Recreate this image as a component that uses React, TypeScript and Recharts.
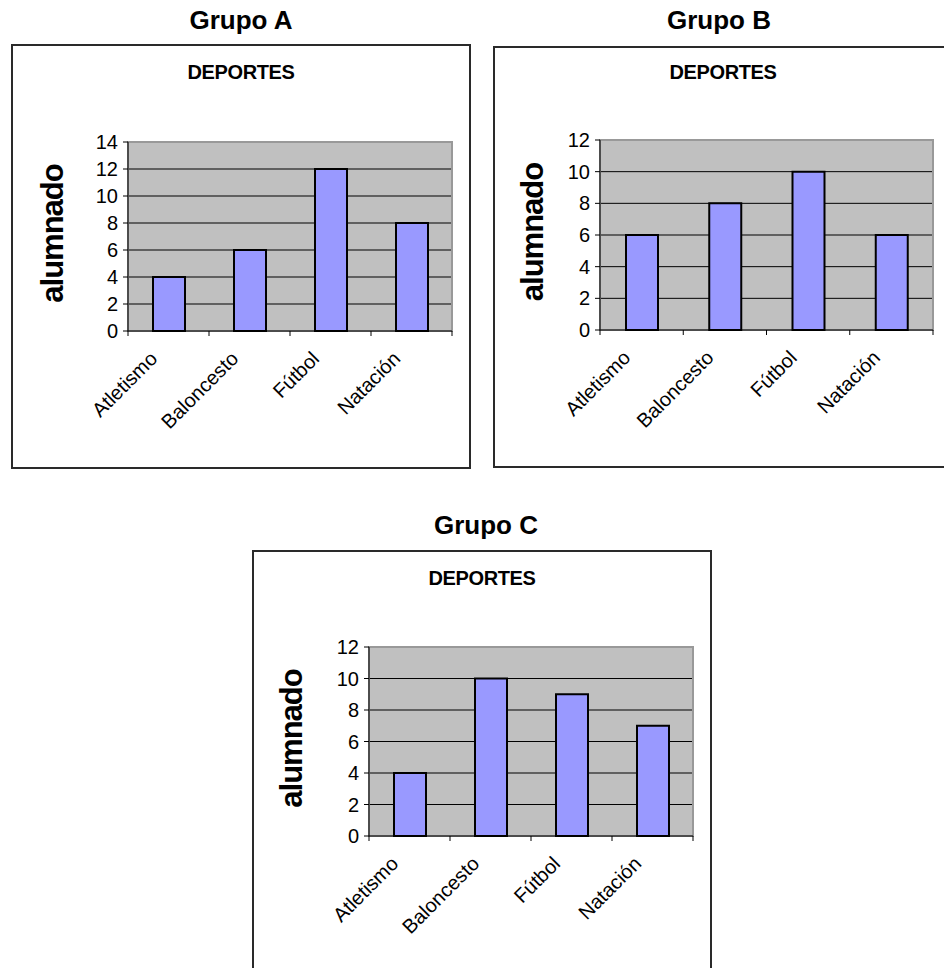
import React from 'react';
import { BarChart, Bar, XAxis, YAxis, CartesianGrid, ReferenceArea } from 'recharts';

// ---------- data ----------
const categories = ['Atletismo', 'Baloncesto', 'Fútbol', 'Natación'];
const valuesA = [4, 6, 12, 8];
const valuesB = [6, 8, 10, 6];
const valuesC = [4, 10, 9, 7];
const ticksA = [0, 2, 4, 6, 8, 10, 12, 14];
const ticksB = [0, 2, 4, 6, 8, 10, 12];
const ticksC = [0, 2, 4, 6, 8, 10, 12];
const groupTitles = ['Grupo A', 'Grupo B', 'Grupo C'];
const chartTitle = 'DEPORTES';
const yLabel = 'alumnado';

const FONT = '"Liberation Sans", Arial, Helvetica, sans-serif';

type Layout = {
  box: { x: number; y: number; w: number; h: number };
  plot: { l: number; t: number; r: number; b: number };
  titleCx: number;
  titleTop: number;
  subTop: number;
  yLabelGap: number;
};

const layoutA: Layout = {
  box: { x: 11, y: 44, w: 460, h: 425 },
  plot: { l: 128, t: 142, r: 452, b: 331 },
  titleCx: 241,
  titleTop: 7,
  subTop: 62,
  yLabelGap: 65,
};
const layoutB: Layout = {
  box: { x: 493, y: 46, w: 460, h: 422 },
  plot: { l: 600, t: 140, r: 933, b: 330 },
  titleCx: 719,
  titleTop: 7,
  subTop: 62,
  yLabelGap: 57,
};
const layoutC: Layout = {
  box: { x: 252, y: 550, w: 460, h: 430 },
  plot: { l: 369, t: 647, r: 693, b: 836 },
  titleCx: 486,
  titleTop: 512,
  subTop: 568,
  yLabelGap: 67,
};

function CategoryTick(props: any) {
  const { x, y, payload, index, band, count } = props;
  const half =
    payload && typeof payload.offset === 'number' && payload.offset > 0 ? payload.offset : band / 2;
  const lx = x - 10;
  const ly = y + 29;
  return (
    <g>
      <line x1={x - half} y1={y} x2={x - half} y2={y + 5} stroke="#000" strokeWidth={1} />
      {index === count - 1 ? (
        <line x1={x + half} y1={y} x2={x + half} y2={y + 5} stroke="#000" strokeWidth={1} />
      ) : null}
      <text
        x={lx}
        y={ly}
        transform={`rotate(-45 ${lx} ${ly})`}
        textAnchor="end"
        fontSize={20}
        fill="#000"
        fontFamily={FONT}
      >
        {payload.value}
      </text>
    </g>
  );
}

function makeYLabel(layout: Layout) {
  return (p: any) => {
    const vb = p && p.viewBox && typeof p.viewBox.x === 'number' ? p.viewBox : null;
    const right = vb ? vb.x + vb.width : layout.plot.l - layout.box.x;
    const midY = vb ? vb.y + vb.height / 2 : (layout.plot.t + layout.plot.b) / 2 - layout.box.y;
    const x = right - layout.yLabelGap;
    const y = midY - 3;
    return (
      <text
        x={x}
        y={y}
        transform={`rotate(-90 ${x} ${y})`}
        textAnchor="middle"
        fontSize={31}
        fontWeight="bold"
        letterSpacing={-1}
        fontFamily={FONT}
        fill="#000"
      >
        {yLabel}
      </text>
    );
  };
}

function GroupChart({
  title,
  values,
  ticks,
  layout,
}: {
  title: string;
  values: number[];
  ticks: number[];
  layout: Layout;
}) {
  const { box, plot } = layout;
  const data = categories.map((c, i) => ({ cat: c, v: values[i] }));
  const yMax = ticks[ticks.length - 1];
  const band = (plot.r - plot.l) / categories.length;
  return (
    <>
      <div
        style={{
          position: 'absolute',
          left: layout.titleCx - 150,
          width: 300,
          top: layout.titleTop,
          textAlign: 'center',
          fontSize: 26,
          lineHeight: '26px',
          fontWeight: 'bold',
          fontFamily: FONT,
          color: '#000',
          whiteSpace: 'nowrap',
        }}
      >
        {title}
      </div>
      <div
        style={{
          position: 'absolute',
          left: box.x,
          top: box.y,
          width: box.w,
          height: box.h,
        }}
      >
        <BarChart
          width={box.w}
          height={box.h}
          data={data}
          margin={{ top: plot.t - box.y, right: box.x + box.w - plot.r, bottom: 0, left: 0 }}
          barSize={32}
        >
          <CartesianGrid
            xAxisId="cat"
            vertical={false}
            horizontal
            fill="#C0C0C0"
            fillOpacity={1}
            stroke="#000"
            strokeOpacity={1}
            horizontalValues={ticks.slice(1, -1)}
          />
          <ReferenceArea
            xAxisId="cat"
            y1={0}
            y2={yMax}
            fill="none"
            fillOpacity={0}
            stroke="#999"
            strokeWidth={2}
            ifOverflow="visible"
          />
          <XAxis
            xAxisId="cat"
            dataKey="cat"
            type="category"
            height={box.y + box.h - plot.b}
            tickLine={false}
            tickSize={0}
            tickMargin={0}
            interval={0}
            axisLine={{ stroke: '#000', strokeWidth: 1 }}
            tick={<CategoryTick band={band} count={categories.length} />}
          />
          <YAxis
            type="number"
            domain={[0, yMax]}
            ticks={ticks}
            interval={0}
            width={plot.l - box.x}
            tickSize={5}
            tickMargin={5}
            axisLine={{ stroke: '#000', strokeWidth: 1 }}
            tickLine={{ stroke: '#000', strokeWidth: 1 }}
            tick={{ fill: '#000', fontSize: 20, fontFamily: FONT }}
            label={{ value: yLabel, content: makeYLabel(layout) }}
          />
          <Bar
            xAxisId="cat"
            dataKey="v"
            fill="#9999FF"
            stroke="#000"
            strokeWidth={2}
            isAnimationActive={false}
          />
        </BarChart>
        <div
          style={{
            position: 'absolute',
            left: 0,
            width: box.w,
            top: layout.subTop - box.y,
            textAlign: 'center',
            fontSize: 20,
            lineHeight: '20px',
            fontWeight: 'bold',
            letterSpacing: -0.4,
            fontFamily: FONT,
            color: '#000',
            pointerEvents: 'none',
          }}
        >
          {chartTitle}
        </div>
        <div
          style={{
            position: 'absolute',
            left: 0,
            top: 0,
            width: box.w,
            height: box.h,
            boxSizing: 'border-box',
            border: '2px solid #2a2a2a',
            pointerEvents: 'none',
          }}
        />
      </div>
    </>
  );
}

export default function App() {
  return (
    <div
      style={{
        position: 'absolute',
        left: 0,
        top: 0,
        width: 944,
        height: 968,
        overflow: 'hidden',
        background: '#fff',
        fontFamily: FONT,
      }}
    >
      <GroupChart title={groupTitles[0]} values={valuesA} ticks={ticksA} layout={layoutA} />
      <GroupChart title={groupTitles[1]} values={valuesB} ticks={ticksB} layout={layoutB} />
      <GroupChart title={groupTitles[2]} values={valuesC} ticks={ticksC} layout={layoutC} />
    </div>
  );
}
